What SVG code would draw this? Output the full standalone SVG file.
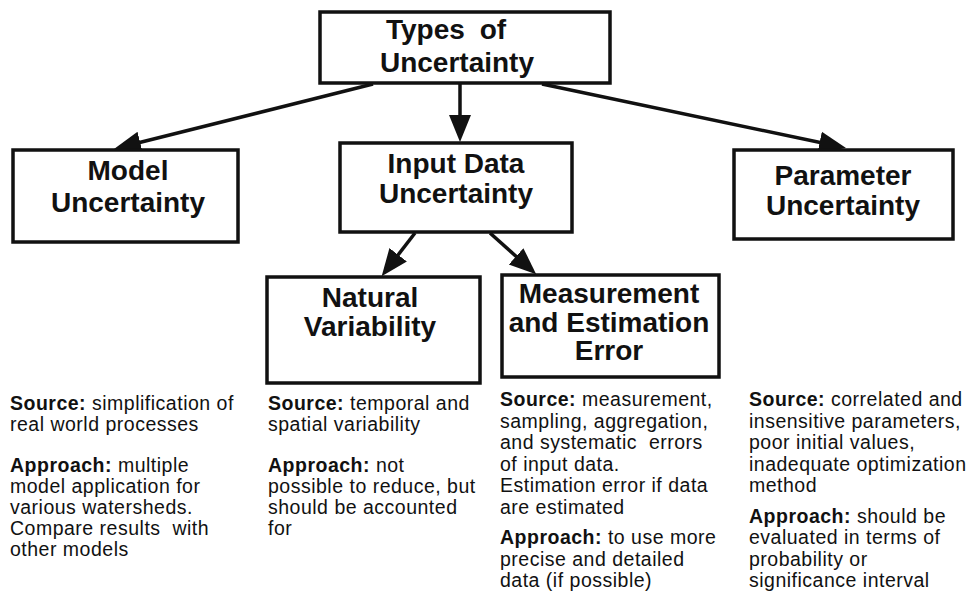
<svg xmlns="http://www.w3.org/2000/svg" width="975" height="598" viewBox="0 0 975 598">
<defs>
<marker id="ah" markerUnits="userSpaceOnUse" markerWidth="28" markerHeight="24" viewBox="0 0 28 24" refX="14" refY="12" orient="auto">
<path d="M0,1 L27,12 L0,23 Z" fill="#111"/>
</marker>
<style>
.box{fill:#fff;stroke:#111;stroke-width:3.5}
.h{font-family:"Liberation Sans",Arial,sans-serif;font-weight:bold;font-size:28px;fill:#111;text-anchor:middle}
.b{font-family:"Liberation Sans",Arial,sans-serif;font-size:19.5px;letter-spacing:0.5px;fill:#111}
.b tspan.k{font-weight:bold}
.c{stroke:#111;stroke-width:3.5;fill:none;marker-end:url(#ah)}
</style>
</defs>
<rect width="975" height="598" fill="#fff"/>
<g id="connectors">
<line class="c" x1="373" y1="84" x2="126.6" y2="145.8"/>
<line class="c" x1="460" y1="84" x2="460" y2="129"/>
<line class="c" x1="542" y1="84" x2="833.3" y2="145.3"/>
<line class="c" x1="415" y1="233" x2="389.6" y2="265.9"/>
<line class="c" x1="490" y1="233" x2="526.5" y2="265.7"/>
</g>
<g id="types">
<rect class="box" x="320" y="12" width="290" height="71"/>
<text class="h" x="386" y="39" style="text-anchor:start" word-spacing="7">Types of</text>
<text class="h" x="457" y="72">Uncertainty</text>
</g>
<g id="model">
<rect class="box" x="13" y="150" width="225" height="92"/>
<text class="h" x="128" y="180">Model</text>
<text class="h" x="128" y="212">Uncertainty</text>
</g>
<g id="input">
<rect class="box" x="340" y="143" width="232" height="89"/>
<text class="h" x="456" y="173">Input Data</text>
<text class="h" x="456" y="203">Uncertainty</text>
</g>
<g id="parameter">
<rect class="box" x="734" y="150" width="219" height="89"/>
<text class="h" x="843" y="185">Parameter</text>
<text class="h" x="843" y="215">Uncertainty</text>
</g>
<g id="natural">
<rect class="box" x="267" y="277" width="213" height="106"/>
<text class="h" x="370" y="307">Natural</text>
<text class="h" x="370" y="336">Variability</text>
</g>
<g id="measurement">
<rect class="box" x="502" y="275" width="217" height="102"/>
<text class="h" x="609" y="303">Measurement</text>
<text class="h" x="609" y="332">and Estimation</text>
<text class="h" x="609" y="360">Error</text>
</g>
<g id="model-text">
<text class="b" x="10" y="410"><tspan class="k">Source:</tspan> simplification of</text>
<text class="b" x="10" y="431">real world processes</text>
<text class="b" x="10" y="472"><tspan class="k">Approach:</tspan> multiple</text>
<text class="b" x="10" y="493">model application for</text>
<text class="b" x="10" y="514">various watersheds.</text>
<text class="b" x="10" y="535" xml:space="preserve">Compare results  with</text>
<text class="b" x="10" y="556">other models</text>
</g>
<g id="natural-text">
<text class="b" x="268" y="410"><tspan class="k">Source:</tspan> temporal and</text>
<text class="b" x="268" y="431">spatial variability</text>
<text class="b" x="268" y="472"><tspan class="k">Approach:</tspan> not</text>
<text class="b" x="268" y="493">possible to reduce, but</text>
<text class="b" x="268" y="514">should be accounted</text>
<text class="b" x="268" y="535">for</text>
</g>
<g id="measurement-text">
<text class="b" x="500" y="406"><tspan class="k">Source:</tspan> measurement,</text>
<text class="b" x="500" y="427.5">sampling, aggregation,</text>
<text class="b" x="500" y="449" xml:space="preserve">and systematic  errors</text>
<text class="b" x="500" y="470.5">of input data.</text>
<text class="b" x="500" y="492">Estimation error if data</text>
<text class="b" x="500" y="513.5">are estimated</text>
<text class="b" x="500" y="544"><tspan class="k">Approach:</tspan> to use more</text>
<text class="b" x="500" y="565.5">precise and detailed</text>
<text class="b" x="500" y="587">data (if possible)</text>
</g>
<g id="parameter-text">
<text class="b" x="749" y="406"><tspan class="k">Source:</tspan> correlated and</text>
<text class="b" x="749" y="427.5">insensitive parameters,</text>
<text class="b" x="749" y="449">poor initial values,</text>
<text class="b" x="749" y="470.5">inadequate optimization</text>
<text class="b" x="749" y="492">method</text>
<text class="b" x="749" y="522.5"><tspan class="k">Approach:</tspan> should be</text>
<text class="b" x="749" y="544">evaluated in terms of</text>
<text class="b" x="749" y="565.5">probability or</text>
<text class="b" x="749" y="587">significance interval</text>
</g>
</svg>
